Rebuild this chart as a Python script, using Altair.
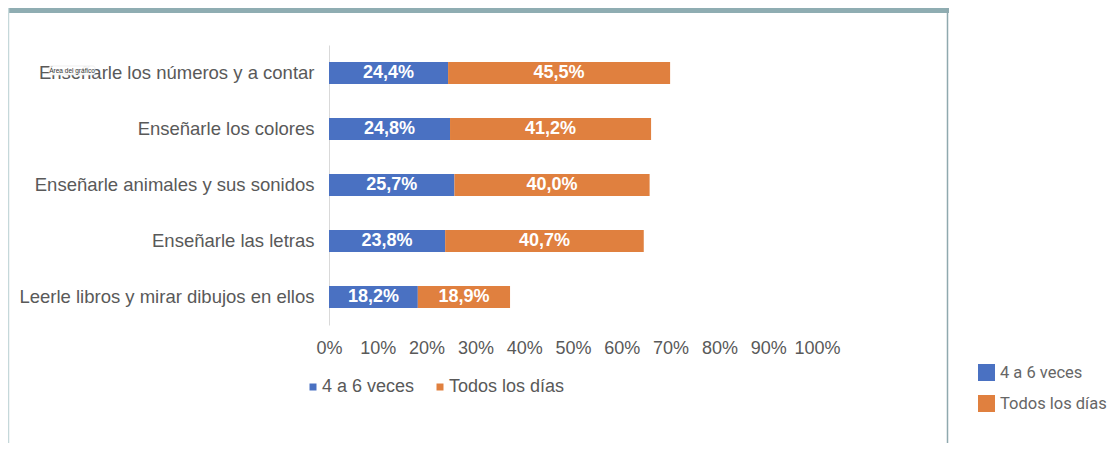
import altair as alt
import pandas as pd

categorias = [
    "Enseñarle los números y a contar",
    "Enseñarle los colores",
    "Enseñarle animales y sus sonidos",
    "Enseñarle las letras",
    "Leerle libros y mirar dibujos en ellos",
]
cuatro_a_seis = [24.4, 24.8, 25.7, 23.8, 18.2]
todos_los_dias = [45.5, 41.2, 40.0, 40.7, 18.9]
series = ["4 a 6 veces", "Todos los días"]
colores = ["#4A71C2", "#E0803F"]
ticks = list(range(0, 101, 10))
tooltip_texto = ["Área del gráfico"]

rows = []
for i, c in enumerate(categorias):
    for j, (s, vals) in enumerate(zip(series, [cuatro_a_seis, todos_los_dias])):
        v = vals[i]
        rows.append({"cat": c, "serie": s, "orden": j, "valor": v,
                     "etiqueta": f"{v:.1f}".replace(".", ",") + "%"})
df = pd.DataFrame(rows)

FONT = "Liberation Sans, Arial, Helvetica, sans-serif"
NARROW = "Roboto, sans-serif"
GREY = "#595959"

base = alt.Chart(df).transform_stack(
    stack="valor", groupby=["cat"], as_=["v0", "v1"],
    sort=[alt.SortField("orden", order="ascending")]
).transform_calculate(mid="(datum.v0 + datum.v1) / 2")

xscale = alt.Scale(domain=[0, 100], nice=False)
yenc = alt.Y("cat:N", sort=categorias, title=None,
             scale=alt.Scale(paddingInner=0.607, paddingOuter=0.3035),
             axis=alt.Axis(domain=True, domainColor="#D9D9D9", domainWidth=1,
                           ticks=False, labelFontSize=18.5, labelColor=GREY,
                           labelFont=FONT, labelPadding=15, labelLimit=500))
cscale = alt.Scale(domain=series, range=colores)

bars = base.mark_bar().encode(
    x=alt.X("v0:Q", scale=xscale, title=None,
            axis=alt.Axis(values=ticks, labelExpr="datum.value + '%'",
                          domain=False, ticks=False, grid=False,
                          labelFontSize=18, labelColor=GREY, labelFont=FONT,
                          labelPadding=14, labelFlush=False, labelOverlap=False)),
    x2="v1:Q",
    y=yenc,
    color=alt.Color("serie:N", scale=cscale, title=None,
                    legend=alt.Legend(orient="none", legendX=-25, legendY=333,
                                      direction="horizontal", symbolType="square",
                                      symbolSize=49, labelFontSize=18, labelFont=FONT,
                                      labelColor=GREY, labelOffset=0, columnPadding=16,
                                      padding=0, symbolStrokeWidth=0)),
)

texts = base.mark_text(color="white", fontWeight="bold", fontSize=18, font=FONT).encode(
    x=alt.X("mid:Q", scale=xscale),
    y=alt.Y("cat:N", sort=categorias),
    text="etiqueta:N",
)

legend2 = base.mark_square(opacity=0).encode(
    x=alt.X("mid:Q", scale=xscale),
    y=alt.Y("cat:N", sort=categorias),
    color=alt.Color("serie:N", scale=cscale, title=None,
                    legend=alt.Legend(orient="none", legendX=649, legendY=319,
                                      direction="vertical", symbolType="square",
                                      symbolSize=289, symbolOpacity=1, labelFontSize=16.5,
                                      labelFont=NARROW, labelColor="#666666",
                                      labelOffset=5, rowPadding=14, padding=0,
                                      symbolStrokeWidth=0)),
)

frame_df = pd.DataFrame({"k": [0]})
top_bar = alt.Chart(frame_df).mark_rect(color="#8FADB2").encode(
    x=alt.value(-321), x2=alt.value(620), y=alt.value(-37), y2=alt.value(-32))
right_border = alt.Chart(frame_df).mark_rule(color="#8FA9AE", strokeWidth=1.5).encode(
    x=alt.value(618.5), y=alt.value(-37), y2=alt.value(398))
left_border = alt.Chart(frame_df).mark_rule(color="#C5D8DA", strokeWidth=1.5).encode(
    x=alt.value(-320.5), y=alt.value(-37), y2=alt.value(398))

tip_df = pd.DataFrame({"t": tooltip_texto})
tip_box = alt.Chart(tip_df).mark_rect(color="white", opacity=0.92, cornerRadius=2,
                                      stroke="#E6E6E6", strokeWidth=0.6).encode(
    x=alt.value(-280), x2=alt.value(-234), y=alt.value(21), y2=alt.value(30))
tip_text = alt.Chart(tip_df).mark_text(fontSize=6.5, color="#333333", font=FONT).encode(
    x=alt.value(-257), y=alt.value(25.5), text="t:N")

chart = alt.layer(bars, texts, legend2, top_bar, right_border, left_border,
                  tip_box, tip_text).resolve_scale(
    color="independent"
).properties(
    width=488, height=280,
    padding={"left": 321, "top": 37, "right": 290, "bottom": 118},
    autosize=alt.AutoSizeParams(type="none"),
    background="white",
).configure_view(stroke=None)

chart.save("out.html", embed_options={"renderer": "svg", "actions": False})
